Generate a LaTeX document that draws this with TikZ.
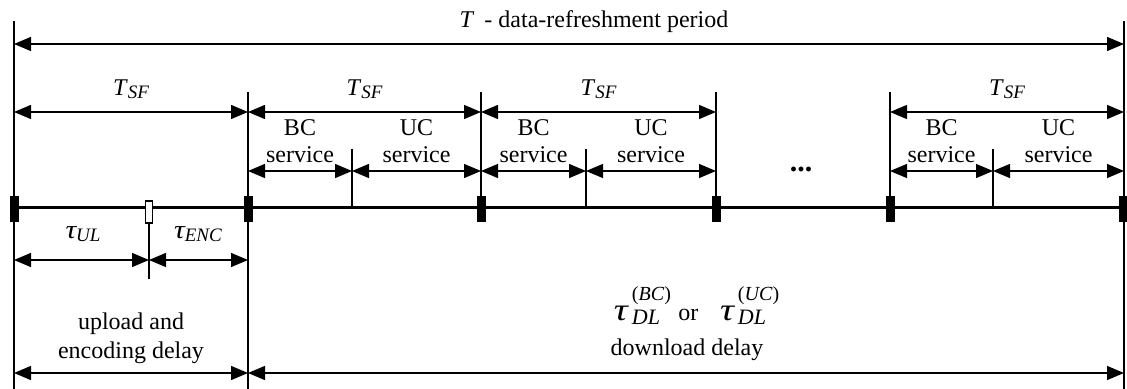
\documentclass[tikz,border=0pt]{standalone}
\usepackage{fontspec}
\usepackage{graphicx}
\setmainfont{Liberation Serif}
\usetikzlibrary{arrows.meta}
\newcommand\sbs[1]{\raisebox{-0.12em}{\fontsize{9.5}{10}\selectfont\itshape #1}}
\newcommand\tauS{{\fontsize{13}{13}\selectfont\itshape\scalebox{1.15}[1]{τ}}}
\newcommand\tauDL[1]{{\fontsize{15}{15}\selectfont\itshape\scalebox{1.3}[1.05]{τ}}\,\rlap{\raisebox{0.85em}{\fontsize{10}{10}\selectfont(\textit{#1})}}\raisebox{-0.15em}{\fontsize{11}{11}\selectfont\itshape DL}\hspace{0.6em}}
\begin{document}
\begin{tikzpicture}[x=0.5pt,y=-0.5pt,
  thin line/.style={line width=0.65pt},
  dim/.style={line width=0.65pt,{Triangle[length=8.5pt,width=7pt]}-{Triangle[length=8.5pt,width=7pt]}},
  lbl/.style={inner sep=0pt,anchor=base,font=\fontsize{12}{14}\selectfont},
  blk/.style={fill=black,draw=black,line width=0.3pt,minimum width=3.8pt,minimum height=12.5pt,inner sep=0pt},
  wblk/.style={fill=white,draw=black,line width=0.6pt,minimum width=3.4pt,minimum height=11pt,inner sep=0pt}]
\useasboundingbox (0,0) rectangle (1127,389);
% coordinates
\coordinate (L0) at (14,21);
\coordinate (Lb) at (14,389);
\coordinate (R0) at (1124,21);
\coordinate (Rb) at (1124,389);
\coordinate (TL) at (14,44);
\coordinate (TR) at (1124,44);
% vertical lines
\draw[thin line] (L0) -- (Lb);
\draw[thin line] (R0) -- (Rb);
\coordinate (a1) at (248,92);   \coordinate (a1b) at (248,389);
\coordinate (a2) at (481,92);   \coordinate (a2b) at (481,208);
\coordinate (a3) at (716,92);   \coordinate (a3b) at (716,208);
\coordinate (a4) at (890,92);   \coordinate (a4b) at (890,208);
\draw[thin line] (a1) -- (a1b);
\draw[thin line] (a2) -- (a2b);
\draw[thin line] (a3) -- (a3b);
\draw[thin line] (a4) -- (a4b);
\coordinate (s1) at (352,149); \coordinate (s1b) at (352,208);
\coordinate (s2) at (586,149); \coordinate (s2b) at (586,208);
\coordinate (s3) at (993,149); \coordinate (s3b) at (993,208);
\draw[thin line] (s1) -- (s1b);
\draw[thin line] (s2) -- (s2b);
\draw[thin line] (s3) -- (s3b);
\coordinate (u1) at (149,208); \coordinate (u1b) at (149,279);
\draw[thin line] (u1) -- (u1b);
% top arrow
\draw[dim] (TL) -- (TR);
\node[lbl] (Tlab) at (594,28) {\textit{T}\, - data-refreshment period};
% T_SF arrows
\foreach \a/\b/\n in {14/248/1,248/481/2,481/716/3,890/1124/4}{
  \coordinate (f\n a) at (\a,112); \coordinate (f\n b) at (\b,112);
  \draw[dim] (f\n a) -- (f\n b);
  \node[lbl] (tsf\n) at ({(\a+\b)/2},96) {\textit{T}\sbs{SF}};
}
% service arrows
\foreach \a/\m/\b/\n in {248/352/481/1,481/586/716/2,890/993/1124/3}{
  \coordinate (b\n a) at (\a,171); \coordinate (b\n m) at (\m,171); \coordinate (b\n b) at (\b,171);
  \draw[dim] (b\n a) -- (b\n m);
  \draw[dim] (b\n m) -- (b\n b);
  \node[lbl] (bc\n) at ({(\a+\m)/2},136) {BC};
  \node[lbl] (bcs\n) at ({(\a+\m)/2},163) {service};
  \node[lbl] (uc\n) at ({(\m+\b)/2},136) {UC};
  \node[lbl] (ucs\n) at ({(\m+\b)/2},163) {service};
}
\node[lbl,font=\fontsize{15}{15}\selectfont\bfseries] (dots) at (801,172) {...};
% timeline
\coordinate (tl0) at (14,208); \coordinate (tl1) at (1124,208);
\draw[line width=1.5pt] (tl0) -- (tl1);
\foreach \x/\n in {14/1,248/2,481/3,716/4,890/5,1123/6}{
  \node[blk] (k\n) at (\x,209) {};
}
\node[wblk] (w1) at (149,212) {};
% tau arrows
\coordinate (ta) at (14,260); \coordinate (tm) at (149,260); \coordinate (tb) at (248,260);
\draw[dim] (ta) -- (tm);
\draw[dim] (tm) -- (tb);
\node[lbl] (tul) at (83,239) {\tauS\sbs{UL}};
\node[lbl] (tenc) at (198,239) {\tauS\sbs{ENC}};
% bottom
\coordinate (ba) at (14,373); \coordinate (bm) at (248,373); \coordinate (bb) at (1124,373);
\draw[dim] (ba) -- (bm);
\draw[dim] (bm) -- (bb);
\node[lbl] (up1) at (131,329) {upload and};
\node[lbl] (up2) at (131,358) {encoding delay};
\node[lbl] (dl1) at (690,321) {\tauDL{BC}\,or\hspace{0.9em}\tauDL{UC}};
\node[lbl] (dl2) at (687,355) {download delay};
\end{tikzpicture}
\end{document}
